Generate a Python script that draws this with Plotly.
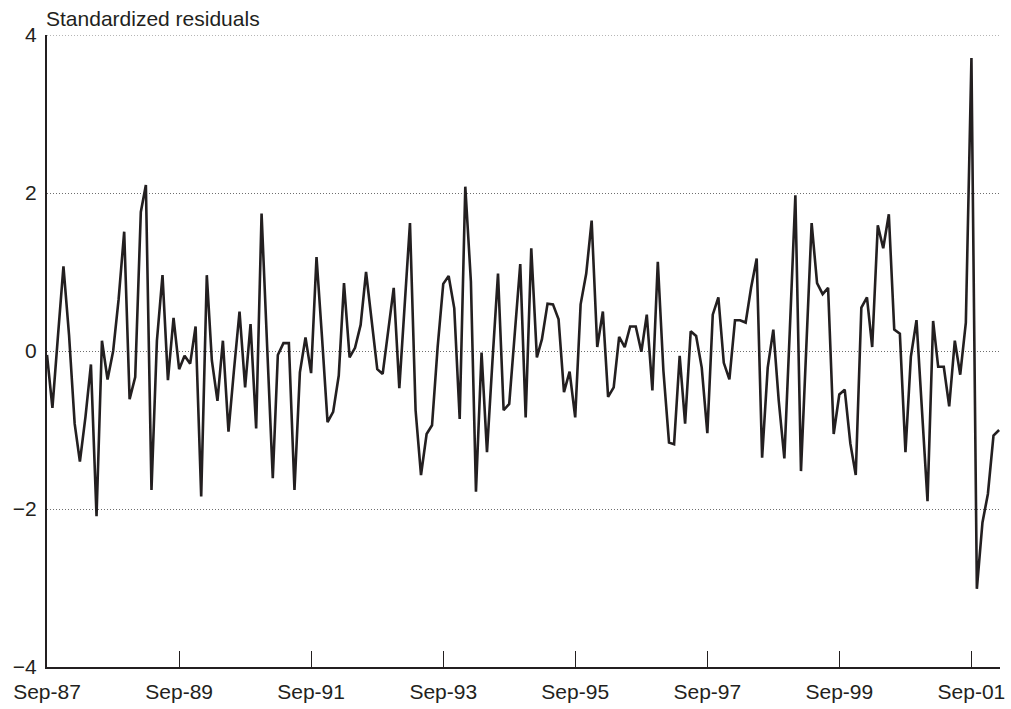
import pandas as pd
import plotly.graph_objects as go

# Monthly standardized residuals, Sep-87 onwards
start_month = "1987-09-01"
residuals = [
    -0.05, -0.72, 0.20, 1.07, 0.20, -0.92, -1.40, -0.83, -0.17, -2.09,
    0.13, -0.36, 0.00, 0.65, 1.51, -0.61, -0.33, 1.76, 2.10, -1.76,
    0.13, 0.96, -0.37, 0.42, -0.23, -0.06, -0.16, 0.31, -1.84, 0.96,
    -0.12, -0.63, 0.13, -1.02, -0.25, 0.50, -0.46, 0.34, -0.98, 1.74,
    0.05, -1.61, -0.05, 0.10, 0.10, -1.76, -0.27, 0.17, -0.28, 1.19,
    0.15, -0.90, -0.77, -0.31, 0.86, -0.08, 0.04, 0.33, 1.00, 0.38,
    -0.23, -0.29, 0.25, 0.80, -0.47, 0.58, 1.62, -0.75, -1.57, -1.05,
    -0.94, 0.05, 0.85, 0.95, 0.54, -0.86, 2.08, 0.88, -1.78, -0.02,
    -1.28, -0.10, 0.98, -0.75, -0.67, 0.20, 1.10, -0.84, 1.30, -0.08,
    0.15, 0.60, 0.59, 0.40, -0.52, -0.26, -0.84, 0.59, 0.98, 1.65,
    0.05, 0.50, -0.58, -0.46, 0.18, 0.05, 0.31, 0.31, -0.01, 0.46,
    -0.50, 1.13, -0.25, -1.16, -1.18, -0.06, -0.92, 0.25, 0.19, -0.21,
    -1.04, 0.46, 0.68, -0.15, -0.36, 0.39, 0.39, 0.36, 0.80, 1.17,
    -1.35, -0.21, 0.27, -0.63, -1.36, 0.25, 1.97, -1.52, 0.05, 1.62,
    0.86, 0.72, 0.80, -1.05, -0.55, -0.49, -1.17, -1.57, 0.55, 0.68,
    0.05, 1.59, 1.30, 1.73, 0.27, 0.22, -1.28, -0.07, 0.39, -0.75,
    -1.90, 0.38, -0.20, -0.20, -0.70, 0.13, -0.30, 0.36, 3.71, -3.01,
    -2.17, -1.81, -1.07, -1.00,
]

tick_dates = ["1987-09-01", "1989-09-01", "1991-09-01", "1993-09-01",
              "1995-09-01", "1997-09-01", "1999-09-01", "2001-09-01"]
tick_labels = ["Sep-87", "Sep-89", "Sep-91", "Sep-93",
               "Sep-95", "Sep-97", "Sep-99", "Sep-01"]
y_ticks = [-4, -2, 0, 2, 4]

months = pd.date_range(start_month, periods=len(residuals), freq="MS")

ink = "#231f20"
grid_colour = "#6e6e6e"
grid_dash = "1px,2px"
font_family = "Liberation Sans, Arial, sans-serif"

fig = go.Figure(
    go.Scatter(
        x=months,
        y=residuals,
        mode="lines",
        line=dict(color=ink, width=2.6),
        hoverinfo="skip",
    )
)

fig.update_layout(
    width=1011,
    height=709,
    margin=dict(l=47, r=6, t=35, b=37),
    paper_bgcolor="white",
    plot_bgcolor="white",
    showlegend=False,
    font=dict(family=font_family, size=21, color=ink),
)

fig.update_xaxes(
    range=["1987-09-01", "2002-02-06"],
    tickvals=tick_dates,
    ticktext=tick_labels,
    ticks="inside",
    ticklen=16,
    tickwidth=1,
    tickcolor=ink,
    showgrid=False,
    zeroline=False,
    showline=True,
    linecolor=ink,
    linewidth=2,
    ticklabelstandoff=5,
)

fig.update_yaxes(
    range=[-4, 4],
    tickvals=y_ticks,
    ticks="",
    showgrid=True,
    gridcolor=grid_colour,
    gridwidth=1,
    griddash=grid_dash,
    zeroline=False,
    showline=True,
    linecolor=ink,
    linewidth=2,
    ticklabelstandoff=4,
)

# dotted rule along the top of the plotting area (y = 4)
fig.add_shape(
    type="line",
    xref="paper", yref="y",
    x0=0, x1=1, y0=4, y1=4,
    line=dict(color=grid_colour, width=1, dash=grid_dash),
    layer="below",
)

fig.add_annotation(
    text="Standardized residuals",
    xref="paper", yref="paper",
    x=0, y=1,
    xanchor="left", yanchor="bottom",
    xshift=-3, yshift=3,
    showarrow=False,
    font=dict(family=font_family, size=21, color=ink),
)

fig.write_html("out.html")
